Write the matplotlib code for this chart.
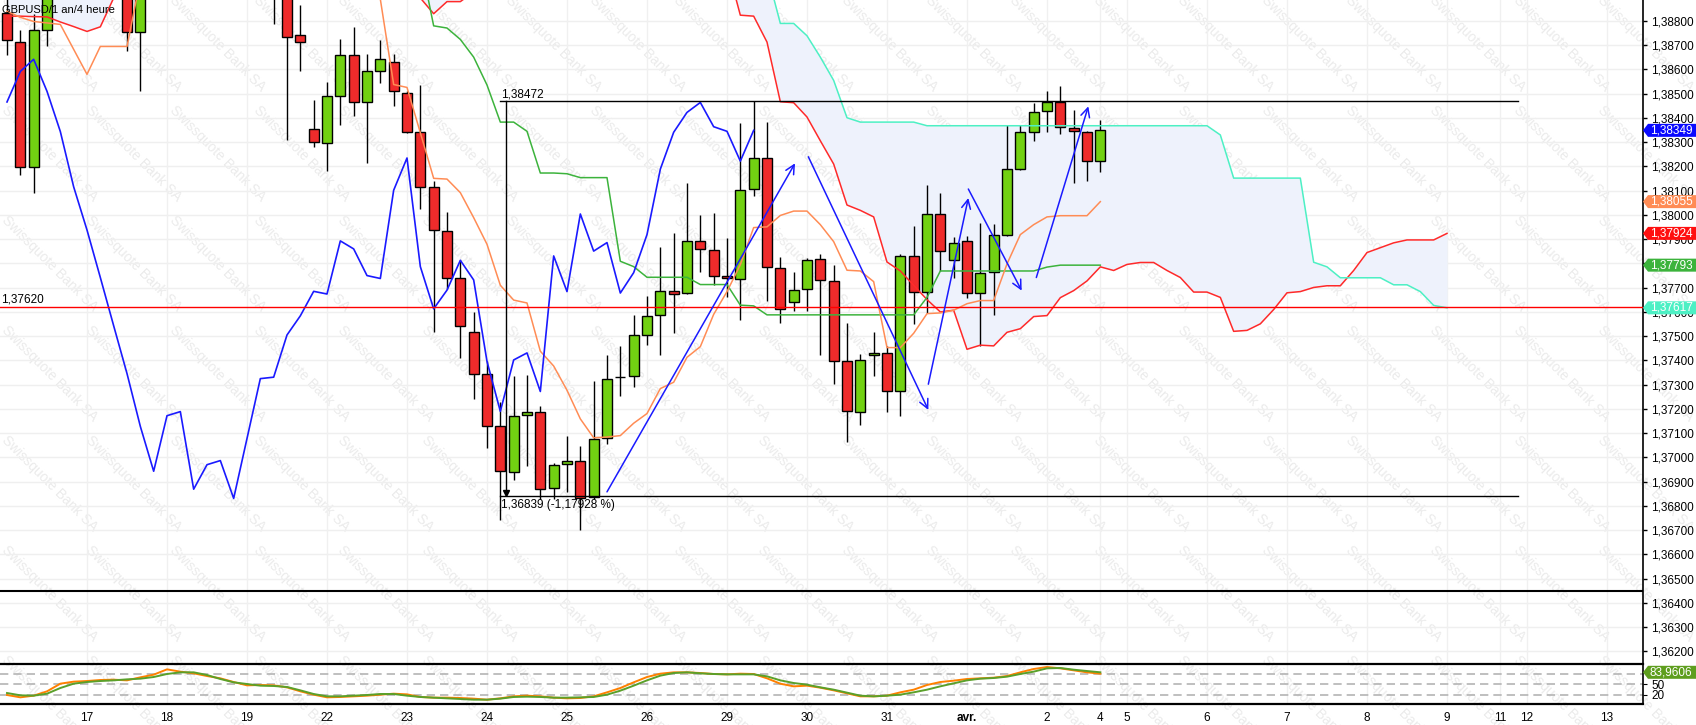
import numpy as np
import matplotlib
matplotlib.use('Agg')
import matplotlib.pyplot as plt
from matplotlib.patches import Polygon
import matplotlib.transforms as mtransforms

plt.rcParams['font.family'] = ['Liberation Sans', 'DejaVu Sans']

W, H = 1696, 725
FIRST = -6  # index of first candle (17 March = 0, 6 candles of 4h per day)

# ---------------- data ----------------
opens = [1.38832, 1.38714, 1.38198, 1.38761, 1.38950, 1.39180,
         1.39100, 1.39150, 1.39050, 1.38980, 1.38754, 1.39150, 1.39500, 1.39900, 1.39750, 1.39500,
         1.39300, 1.39150, 1.39250, 1.39120, 1.39050, 1.38930, 1.38744, 1.38354, 1.38297, 1.38489,
         1.38658, 1.38466, 1.38592, 1.38629, 1.38505, 1.38344, 1.38116, 1.37934, 1.37742, 1.37519,
         1.37343, 1.37128, 1.36939, 1.37174, 1.37189, 1.36872, 1.36971, 1.36987, 1.36836, 1.37081,
         1.37331, 1.37334, 1.37506, 1.37588, 1.37685, 1.37678, 1.37893, 1.37854, 1.37749, 1.37737,
         1.38107, 1.38235, 1.37781, 1.37643, 1.37693, 1.37818, 1.37728, 1.37396, 1.37189, 1.37421,
         1.37431, 1.37272, 1.37831, 1.37684, 1.38004, 1.37816, 1.37893, 1.37678, 1.37765, 1.37919,
         1.38189, 1.38342, 1.38428, 1.38464, 1.38357, 1.38341, 1.38222]
highs = [1.38890, 1.38761, 1.38827, 1.39000, 1.39250, 1.39350,
         1.39250, 1.39300, 1.39150, 1.39050, 1.39200, 1.39600, 1.40000, 1.40100, 1.39900, 1.39650,
         1.39500, 1.39350, 1.39400, 1.39250, 1.39150, 1.39000, 1.38868, 1.38474, 1.38548, 1.38727,
         1.38774, 1.38663, 1.38721, 1.38663, 1.38510, 1.38536, 1.38139, 1.38013, 1.37813, 1.37598,
         1.37399, 1.37228, 1.37335, 1.37338, 1.37214, 1.36975, 1.37090, 1.37049, 1.37314, 1.37421,
         1.37458, 1.37588, 1.37666, 1.37869, 1.37924, 1.38132, 1.37999, 1.38009, 1.37904, 1.38380,
         1.38472, 1.38384, 1.37825, 1.37766, 1.37822, 1.37839, 1.37795, 1.37553, 1.37427, 1.37516,
         1.37461, 1.37839, 1.37956, 1.38125, 1.38092, 1.37909, 1.37913, 1.37967, 1.37963, 1.38372,
         1.38369, 1.38462, 1.38511, 1.38532, 1.38433, 1.38345, 1.38391]
lows = [1.38661, 1.38163, 1.38089, 1.38698, 1.38920, 1.39050,
        1.38980, 1.39000, 1.38920, 1.38677, 1.38513, 1.39100, 1.39400, 1.39600, 1.39400, 1.39200,
        1.39050, 1.39000, 1.39050, 1.38950, 1.38788, 1.38308, 1.38592, 1.38281, 1.38181, 1.38369,
        1.38407, 1.38213, 1.38545, 1.38448, 1.38339, 1.38025, 1.37519, 1.37693, 1.37410, 1.37242,
        1.37040, 1.36740, 1.36905, 1.36964, 1.36828, 1.36828, 1.36858, 1.36700, 1.36830, 1.37056,
        1.37252, 1.37291, 1.37463, 1.37422, 1.37512, 1.37676, 1.37765, 1.37710, 1.37662, 1.37568,
        1.38078, 1.37647, 1.37554, 1.37604, 1.37604, 1.37423, 1.37302, 1.37063, 1.37134, 1.37335,
        1.37189, 1.37170, 1.37551, 1.37595, 1.37769, 1.37742, 1.37657, 1.37460, 1.37588, 1.37913,
        1.38184, 1.38307, 1.38344, 1.38332, 1.38130, 1.38142, 1.38179]
closes = [1.38720, 1.38198, 1.38761, 1.38950, 1.39180, 1.39100,
          1.39150, 1.39050, 1.38980, 1.38754, 1.39150, 1.39500, 1.39900, 1.39750, 1.39500, 1.39300,
          1.39150, 1.39250, 1.39120, 1.39050, 1.38930, 1.38736, 1.38714, 1.38301, 1.38489, 1.38658,
          1.38466, 1.38592, 1.38642, 1.38510, 1.38344, 1.38116, 1.37938, 1.37742, 1.37543, 1.37346,
          1.37128, 1.36943, 1.37172, 1.37189, 1.36869, 1.36970, 1.36987, 1.36831, 1.37078, 1.37325,
          1.37331, 1.37505, 1.37584, 1.37685, 1.37674, 1.37893, 1.37860, 1.37750, 1.37738, 1.38102,
          1.38235, 1.37787, 1.37613, 1.37690, 1.37813, 1.37732, 1.37396, 1.37190, 1.37402, 1.37431,
          1.37272, 1.37831, 1.37684, 1.38004, 1.37851, 1.37886, 1.37678, 1.37762, 1.37919, 1.38189,
          1.38341, 1.38423, 1.38464, 1.38364, 1.38345, 1.38222, 1.38349]

tenkan = [1.38840, 1.38815, 1.38798, 1.38792, 1.38786, 1.38683,
          1.38580, 1.38695, 1.38695, 1.38695, 1.38970, 1.39150, 1.39250, 1.39350, 1.39450, 1.39450,
          1.39450, 1.39450, 1.39450, 1.39400, 1.39300, 1.39250, 1.39150, 1.39100, 1.39050, 1.39000,
          1.38980, 1.38950, 1.38890, 1.38538, 1.38526, 1.38339, 1.38151, 1.38148, 1.38092, 1.37989,
          1.37879, 1.37710, 1.37649, 1.37637, 1.37438, 1.37377, 1.37277, 1.37159, 1.37081, 1.37084,
          1.37090, 1.37141, 1.37181, 1.37284, 1.37310, 1.37413, 1.37457, 1.37590, 1.37684, 1.37795,
          1.37948, 1.37951, 1.37998, 1.38016, 1.38016, 1.37960, 1.37890, 1.37772, 1.37769, 1.37725,
          1.37453, 1.37453, 1.37512, 1.37593, 1.37596, 1.37607, 1.37634, 1.37647, 1.37647, 1.37798,
          1.37919, 1.37960, 1.37992, 1.37997, 1.37997, 1.37997, 1.38055]
kijun = [1.39250, 1.39250, 1.39250, 1.39250, 1.39250, 1.39250,
         1.39250, 1.39250, 1.39250, 1.39250, 1.39300, 1.39300, 1.39350, 1.39350, 1.39350, 1.39350,
         1.39350, 1.39350, 1.39350, 1.39350, 1.39350, 1.39300, 1.39250, 1.39200, 1.39150, 1.39150,
         1.39150, 1.39150, 1.39100, 1.39100, 1.39080, 1.39050, 1.38780, 1.38771, 1.38724, 1.38651,
         1.38536, 1.38383, 1.38383, 1.38345, 1.38173, 1.38173, 1.38170, 1.38154, 1.38154, 1.38154,
         1.37809, 1.37787, 1.37743, 1.37743, 1.37743, 1.37743, 1.37713, 1.37713, 1.37713, 1.37628,
         1.37625, 1.37588, 1.37588, 1.37588, 1.37588, 1.37588, 1.37588, 1.37588, 1.37588, 1.37588,
         1.37588, 1.37588, 1.37588, 1.37660, 1.37769, 1.37769, 1.37769, 1.37769, 1.37769, 1.37769,
         1.37769, 1.37769, 1.37785, 1.37793, 1.37793, 1.37793, 1.37793]
span_a = [1.38820, 1.38820, 1.38818, 1.38817, 1.38796, 1.38777,
          1.38757, 1.38776, 1.38895, 1.39050, 1.39100, 1.39120, 1.39150, 1.39150, 1.39180, 1.39200,
          1.39200, 1.39180, 1.39150, 1.39120, 1.39100, 1.39080, 1.39050, 1.39030, 1.39020, 1.39000,
          1.38980, 1.38970, 1.38960, 1.38950, 1.38940, 1.38895, 1.38830, 1.38880, 1.38880, 1.38920,
          1.38950, 1.38980, 1.39000, 1.39020, 1.39050, 1.39050, 1.39080, 1.39100, 1.39100, 1.39100,
          1.39080, 1.39050, 1.39030, 1.39000, 1.38980, 1.38960, 1.38950, 1.38940, 1.39030, 1.38824,
          1.38820, 1.38713, 1.38467, 1.38463, 1.38404, 1.38306, 1.38210, 1.38041, 1.38019, 1.37992,
          1.37806, 1.37769, 1.37710, 1.37651, 1.37600, 1.37607, 1.37446, 1.37463, 1.37460, 1.37516,
          1.37531, 1.37581, 1.37585, 1.37659, 1.37688, 1.37728, 1.37786, 1.37771, 1.37796, 1.37804,
          1.37804, 1.37771, 1.37742, 1.37682, 1.37682, 1.37660, 1.37520, 1.37524, 1.37551, 1.37610,
          1.37679, 1.37684, 1.37701, 1.37708, 1.37708, 1.37771, 1.37845, 1.37865, 1.37885, 1.37897,
          1.37897, 1.37897, 1.37924]
span_b = [1.39400, 1.39400, 1.39400, 1.39400, 1.39400, 1.39400,
          1.39400, 1.39400, 1.39400, 1.39400, 1.39400, 1.39400, 1.39400, 1.39400, 1.39400, 1.39400,
          1.39450, 1.39450, 1.39450, 1.39450, 1.39450, 1.39450, 1.39450, 1.39450, 1.39450, 1.39450,
          1.39450, 1.39450, 1.39450, 1.39450, 1.39450, 1.39450, 1.39450, 1.39450, 1.39450, 1.39450,
          1.39400, 1.39400, 1.39400, 1.39400, 1.39400, 1.39400, 1.39400, 1.39400, 1.39400, 1.39400,
          1.39300, 1.39300, 1.39300, 1.39300, 1.39300, 1.39300, 1.39300, 1.39300, 1.39300, 1.39300,
          1.39200, 1.39000, 1.38790, 1.38790, 1.38739, 1.38651, 1.38555, 1.38401, 1.38383, 1.38383,
          1.38383, 1.38383, 1.38383, 1.38368, 1.38368, 1.38368, 1.38368, 1.38368, 1.38368, 1.38368,
          1.38368, 1.38368, 1.38368, 1.38368, 1.38368, 1.38368, 1.38368, 1.38368, 1.38368, 1.38368,
          1.38368, 1.38368, 1.38368, 1.38368, 1.38368, 1.38330, 1.38152, 1.38152, 1.38152, 1.38152,
          1.38152, 1.38152, 1.37805, 1.37786, 1.37741, 1.37741, 1.37741, 1.37741, 1.37712, 1.37712,
          1.37684, 1.37627, 1.37617]

stoch_k = [20.0, 13.4, 18.1, 30.3, 51.9, 57.6,
           59.4, 62.3, 63.2, 61.3, 69.8, 77.3, 92.3, 85.8, 81.1, 73.5,
           67.0, 56.6, 47.2, 48.2, 47.2, 41.6, 30.3, 20.9, 13.4, 14.4,
           16.2, 18.1, 20.9, 23.7, 21.8, 14.4, 12.5, 12.5, 11.5, 9.7,
           6.8, 10.6, 16.2, 18.1, 16.2, 12.5, 10.6, 11.5, 16.2, 27.5,
           39.7, 55.7, 70.7, 80.1, 83.9, 83.9, 82.0, 79.2, 78.2, 80.1,
           79.2, 67.0, 51.9, 44.4, 46.3, 40.6, 33.1, 24.7, 16.2, 16.2,
           18.1, 27.5, 35.0, 48.2, 56.6, 60.4, 65.1, 67.0, 68.8, 73.5,
           83.9, 93.3, 98.9, 95.2, 89.5, 83.9, 80.1]
stoch_d = [25.6, 19.1, 18.1, 23.7, 39.7, 51.9,
           56.6, 59.4, 61.3, 64.1, 66.0, 70.7, 79.2, 83.9, 83.9, 76.4,
           65.1, 55.7, 51.0, 46.3, 45.4, 42.6, 33.1, 22.8, 16.2, 16.2,
           18.1, 20.0, 22.8, 22.8, 18.1, 14.4, 12.5, 10.6, 8.7, 6.8,
           6.8, 9.7, 14.4, 15.3, 14.4, 12.5, 12.5, 13.4, 14.4, 20.9,
           32.2, 46.3, 61.3, 74.5, 82.0, 83.9, 81.1, 79.2, 78.2, 78.2,
           78.2, 72.6, 61.3, 53.8, 49.1, 41.6, 35.0, 26.6, 18.1, 16.2,
           18.1, 20.9, 27.5, 35.0, 44.4, 52.9, 61.3, 66.0, 67.9, 71.7,
           79.2, 85.8, 95.2, 96.1, 91.4, 87.6, 83.9606]

day_ticks = [0, 6, 12, 18, 24, 30, 36, 42, 48, 54, 60, 66, 72, 76, 78, 84, 90, 96, 102, 106, 108, 114]
day_labels = ['17', '18', '19', '22', '23', '24', '25', '26', '29', '30', '31', 'avr.', '2',
              '4', '5', '6', '7', '8', '9', '11', '12', '13']

# hand-drawn trend arrows: (x0, y0, x1, y1) in candle index / price
arrows = [(39.0, 1.36858, 53.1, 1.38213),
          (54.1, 1.38240, 63.1, 1.37196),
          (63.1, 1.37302, 66.1, 1.38070),
          (66.1, 1.38107, 70.1, 1.37688),
          (71.2, 1.37742, 75.1, 1.38448)]
meas_high, meas_low = 1.38472, 1.36839
hline_red = 1.37620
hline_sep = 1.36450

# ---------------- figure ----------------
fig = plt.figure(figsize=(W / 100, H / 100), dpi=100)
fig.patch.set_facecolor('white')

AXW = 1643
ax = fig.add_axes([0, 61 / H, AXW / W, 664 / H])
osc = fig.add_axes([0, 21 / H, AXW / W, 40 / H], sharex=ax)
for a in (ax, osc):
    a.set_facecolor('none')

XMIN, XMAX = -6.525, 116.7
YTOP, YBOT = 1.388866, 1.36148
ax.set_xlim(XMIN, XMAX)
ax.set_ylim(YBOT, YTOP)
osc.set_ylim(-5.4, 107.4)

# watermark
for cx in range(0, 20):
    for ry in range(0, 7):
        x0 = 2 + 84 * cx
        y0 = -3 + 110 * ry
        fig.text((x0 + 48) / W, 1 - (y0 + 47) / H, 'Swissquote Bank SA', rotation=-45,
                 ha='center', va='center', rotation_mode='anchor', fontsize=10,
                 color='#ebebeb', zorder=-5)

# grids
yt = np.round(np.arange(1.362, 1.3885, 0.001), 3)
for v in yt:
    ax.axhline(v, color='#efefef', lw=1, zorder=0)
for t in day_ticks:
    ax.axvline(t, color='#f0f0f0', lw=1, zorder=0)
    osc.axvline(t, color='#f0f0f0', lw=1, zorder=0)

idx = np.arange(FIRST, FIRST + len(opens))
o = np.array(opens); h = np.array(highs); l = np.array(lows); c = np.array(closes)

# Ichimoku cloud
ia = np.arange(FIRST, FIRST + len(span_a))
ax.fill_between(ia, span_a, span_b, color='#eef2fc', zorder=1, lw=0)

# candles
ax.vlines(idx, l, h, color='black', lw=1, zorder=3)
cols = np.where(c >= o, '#72d112', '#ef2b2b')
ax.bar(idx, np.abs(c - o), bottom=np.minimum(o, c), width=0.74, color=cols,
       edgecolor='black', linewidth=1, zorder=4)

# lines
it = np.arange(FIRST, FIRST + len(tenkan))
ik = np.arange(FIRST, FIRST + len(kijun))
ax.plot(ia, span_a, color='#ff2a2a', lw=1.1, zorder=5)
ax.plot(ia, span_b, color='#4df0c4', lw=1.1, zorder=5)
ax.plot(ik, kijun, color='#3cb33c', lw=1.1, zorder=5)
ax.plot(it, tenkan, color='#ff8c55', lw=1.1, zorder=5)
chikou = c[26:]
ax.plot(idx[:len(chikou)], chikou, color='#1a1aff', lw=1.2, zorder=5)

# horizontal references
ax.axhline(hline_red, color='#ff0000', lw=1, zorder=5)
ax.text(0.0008, hline_red + 0.00006, '1,37620',
        transform=mtransforms.blended_transform_factory(ax.transAxes, ax.transData),
        fontsize=8.5, va='bottom', ha='left', zorder=7)
ax.axhline(hline_sep, color='black', lw=1.5, zorder=5)

# measurement tool
ax.plot([31.0, 107.3], [meas_high, meas_high], color='black', lw=1, zorder=6)
ax.plot([31.0, 107.3], [meas_low, meas_low], color='black', lw=1, zorder=6)
ax.plot([31.4, 31.4], [meas_high, meas_low + 0.0001], color='black', lw=1, zorder=6)
ax.plot([31.4], [meas_low + 0.00016], marker='v', color='black', markersize=5, zorder=6)
ax.text(31.05, meas_high + 0.00002, '1,38472', fontsize=8.5, va='bottom', ha='left', zorder=7)
ax.text(31.05, meas_low - 0.00012, '1,36839 (-1,17928 %)', fontsize=8.5, va='top', ha='left', zorder=7)

# arrows
for x0, y0, x1, y1 in arrows:
    ax.annotate('', xy=(x1, y1), xytext=(x0, y0),
                arrowprops=dict(arrowstyle='->', color='#1a1aff', lw=1.1, mutation_scale=16,
                                shrinkA=0, shrinkB=0), zorder=6)

# title
fig.text(2 / W, 1 - 10 / H, 'GBPUSD/1 an/4 heure', fontsize=8, va='center', ha='left', zorder=20)

# axis styling
def fmt(v, pos=None):
    return f'{v:.5f}'.replace('.', ',')

for a in (ax, osc):
    for s in ('left', 'top', 'bottom'):
        a.spines[s].set_visible(False)
    a.spines['right'].set_color('black')
    a.spines['right'].set_linewidth(1.2)
    a.yaxis.tick_right()

ax.set_yticks(yt)
ax.set_yticklabels([fmt(v) for v in yt])
ax.tick_params(axis='y', length=3, width=1, pad=3, labelsize=8.5, colors='black')
ax.tick_params(axis='x', bottom=False, labelbottom=False)

osc.spines['top'].set_visible(True)
osc.spines['bottom'].set_visible(True)
osc.spines['top'].set_linewidth(1.6)
osc.spines['bottom'].set_linewidth(1.6)
for lv in (20, 50, 80):
    osc.axhline(lv, color='#b4b4b4', lw=1.2, ls=(0, (5, 3)), zorder=1)
io = np.arange(FIRST, FIRST + len(stoch_k))
osc.plot(io, stoch_k, color='#ff8000', lw=1.4, zorder=3)
osc.plot(io, stoch_d, color='#5aa02a', lw=1.4, zorder=3)
osc.set_yticks([20, 50])
osc.set_yticklabels(['20', '50'])
osc.tick_params(axis='y', length=3, pad=3, labelsize=8.5)
osc.set_xticks(day_ticks)
osc.set_xticklabels(day_labels)
osc.tick_params(axis='x', length=0, pad=6, labelsize=8.5)
for lab in osc.get_xticklabels():
    if lab.get_text() == 'avr.':
        lab.set_fontweight('bold')

# price tags on the right axis
def tag(a, y, txt, col, hpx=6.5, wpx=54):
    tr = mtransforms.blended_transform_factory(a.transAxes, a.transData)
    pos = a.get_position()
    axh = pos.height * H
    lo, hi = a.get_ylim()
    dh = hpx * (hi - lo) / axh
    dx = 1.0 / (pos.width * W)
    pts = [(1, y), (1 + 5 * dx, y + dh), (1 + wpx * dx, y + dh), (1 + wpx * dx, y - dh), (1 + 5 * dx, y - dh)]
    a.add_patch(Polygon(pts, closed=True, transform=tr, facecolor=col, edgecolor='none',
                        clip_on=False, zorder=10))
    a.text(1 + 7 * dx, y, txt, transform=tr, color='white', fontsize=8.5, va='center', ha='left',
           clip_on=False, zorder=11)

tag(ax, closes[-1], fmt(closes[-1]), '#0a0aff')
tag(ax, tenkan[-1], fmt(tenkan[-1]), '#ff8c55')
tag(ax, span_a[-1], fmt(span_a[-1]), '#ff1010')
tag(ax, kijun[-1], fmt(kijun[-1]), '#3cb33c')
tag(ax, span_b[-1], fmt(span_b[-1]), '#4df0c4')
tag(osc, stoch_d[-1], f'{stoch_d[-1]:.4f}'.replace('.', ','), '#5e9e1e')

fig.savefig('out.png', dpi=100)
